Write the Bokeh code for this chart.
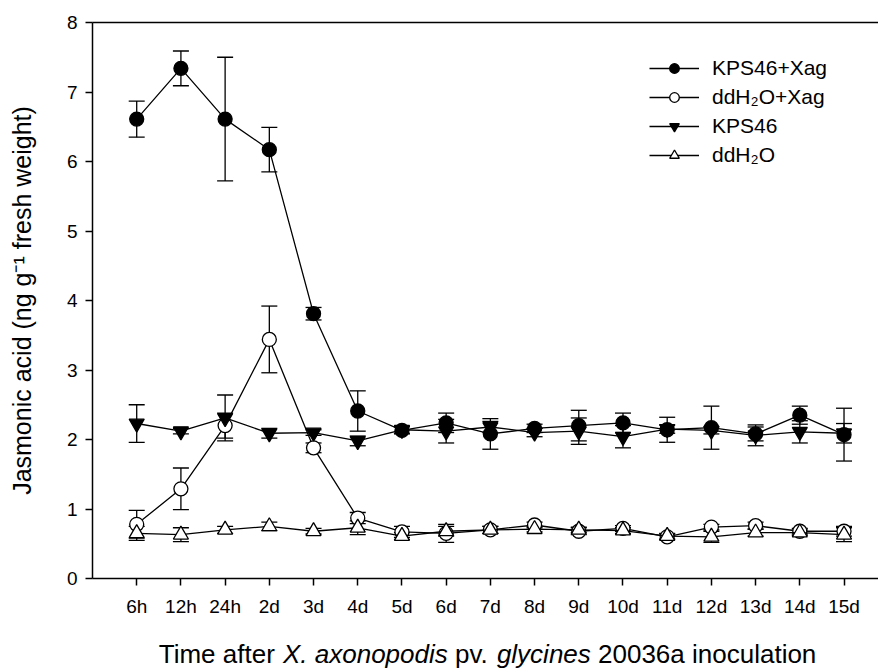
from bokeh.plotting import figure
from bokeh.layouts import column
from bokeh.models import (ColumnDataSource, Whisker, TeeHead, Legend, LegendItem,
                          LinearAxis, FixedTicker, Range1d)
from bokeh.core.properties import value
from bokeh.embed import file_html
from bokeh.resources import INLINE

# ---------------- data ----------------
time_labels = ["6h", "12h", "24h", "2d", "3d", "4d", "5d", "6d", "7d", "8d",
               "9d", "10d", "11d", "12d", "13d", "14d", "15d"]

kps_xag = [6.61, 7.34, 6.61, 6.17, 3.81, 2.41, 2.13, 2.24, 2.08, 2.16,
           2.20, 2.24, 2.14, 2.17, 2.08, 2.35, 2.07]
kps_xag_err = [0.26, 0.25, 0.89, 0.32, 0.09, 0.29, 0.05, 0.14, 0.22, 0.06,
               0.22, 0.14, 0.18, 0.31, 0.10, 0.13, 0.38]

dd_xag = [0.78, 1.29, 2.20, 3.44, 1.88, 0.87, 0.67, 0.65, 0.70, 0.77,
          0.68, 0.72, 0.60, 0.74, 0.76, 0.68, 0.68]
dd_xag_err = [0.20, 0.30, 0.18, 0.48, 0.07, 0.08, 0.08, 0.13, 0.05, 0.04,
              0.05, 0.04, 0.04, 0.04, 0.05, 0.04, 0.07]

kps = [2.23, 2.12, 2.31, 2.09, 2.10, 1.98, 2.14, 2.12, 2.18, 2.10,
       2.12, 2.04, 2.15, 2.13, 2.06, 2.11, 2.09]
kps_err = [0.27, 0.04, 0.33, 0.07, 0.04, 0.07, 0.05, 0.17, 0.08, 0.06,
           0.19, 0.16, 0.06, 0.05, 0.15, 0.16, 0.14]

dd = [0.65, 0.63, 0.70, 0.75, 0.68, 0.73, 0.61, 0.68, 0.70, 0.71,
      0.70, 0.69, 0.61, 0.60, 0.66, 0.66, 0.63]
dd_err = [0.10, 0.10, 0.05, 0.06, 0.04, 0.10, 0.05, 0.07, 0.05, 0.04,
          0.04, 0.04, 0.04, 0.08, 0.05, 0.04, 0.10]

series_names = ["KPS46+Xag", "ddH\u2082O+Xag", "KPS46", "ddH\u2082O"]
y_ticks = [0, 1, 2, 3, 4, 5, 6, 7, 8]
# x-axis title pieces, separated by single spaces
title_parts = [("Time after", "normal"), ("X. axonopodis", "italic"), ("pv.", "normal"),
               ("glycines", "italic"), ("20036a inoculation", "normal")]

x = list(range(1, len(time_labels) + 1))

FONT = "Liberation Sans"
LEFT = 92
FULL_W = 878

# ---------------- main plot ----------------
p = figure(width=FULL_W, height=628, output_backend="svg", toolbar_location=None,
           x_range=Range1d(0, 17.78), y_range=Range1d(0, 8),
           min_border_left=LEFT, min_border_right=0, min_border_top=22,
           min_border_bottom=50)
p.outline_line_color = None
p.grid.visible = False
p.background_fill_color = "white"
p.border_fill_color = "white"

for ax in (p.xaxis[0], p.yaxis[0]):
    ax.axis_line_width = 1.5
    ax.axis_line_color = "black"
    ax.major_tick_line_width = 1.5
    ax.major_tick_line_color = "black"
    ax.major_tick_in = 0
    ax.major_tick_out = 7
    ax.minor_tick_line_color = None
    ax.major_label_text_font = FONT
    ax.major_label_text_font_size = "19px"
    ax.major_label_text_color = "black"

p.xaxis.ticker = FixedTicker(ticks=x)
p.xaxis.major_label_overrides = {i: lab for i, lab in zip(x, time_labels)}
p.xaxis.major_label_standoff = 10

p.yaxis.ticker = FixedTicker(ticks=y_ticks)
p.yaxis.major_label_standoff = 8
p.yaxis.axis_label = "Jasmonic acid (ng g\u207b\u00b9 fresh weight)"
p.yaxis.axis_label_text_font = FONT
p.yaxis.axis_label_text_font_size = "25px"
p.yaxis.axis_label_text_font_style = "normal"
p.yaxis.axis_label_text_color = "black"
p.yaxis.axis_label_standoff = 28

top_axis = LinearAxis(ticker=FixedTicker(ticks=[]), major_tick_out=0, major_tick_in=0,
                      minor_tick_out=0, minor_tick_in=0, major_label_standoff=0,
                      major_label_text_font_size="0px", axis_line_width=1.5,
                      axis_line_color="black")
p.add_layout(top_axis, "above")

specs = [
    (kps_xag, kps_xag_err, "circle", "black", 14),
    (dd_xag, dd_xag_err, "circle", "white", 14),
    (kps, kps_err, "inverted_triangle", "black", 15),
    (dd, dd_err, "triangle", "white", 15),
]

items = []
for name, (vals, errs, marker, fill, msize) in zip(series_names, specs):
    src = ColumnDataSource(dict(
        x=x, y=vals,
        upper=[v + e for v, e in zip(vals, errs)],
        lower=[v - e for v, e in zip(vals, errs)],
    ))
    w = Whisker(base="x", upper="upper", lower="lower", source=src,
                line_color="black", line_width=1.3,
                upper_head=TeeHead(size=16, line_width=1.3, line_color="black"),
                lower_head=TeeHead(size=16, line_width=1.3, line_color="black"))
    p.add_layout(w)
    ln = p.line("x", "y", source=src, line_color="black", line_width=1.3)
    sc = p.scatter("x", "y", source=src, marker=marker, size=msize,
                   fill_color=fill, line_color="black", line_width=1.3)
    items.append(LegendItem(label=name, renderers=[ln, sc]))

legend = Legend(items=items, location=(557, 411), orientation="vertical",
                padding=0, margin=0, spacing=5, label_height=24, glyph_height=24,
                glyph_width=50, label_standoff=13, label_text_font=FONT,
                label_text_font_size="21px", label_text_color="black",
                border_line_color=None, background_fill_alpha=0)
p.add_layout(legend)

# ---------------- x-axis title strip (mixed italic) ----------------
W = {' ': 278, 'T': 611, 'i': 222, 'm': 833, 'e': 556, 'a': 556, 'f': 278, 't': 278,
     'r': 333, 'X': 667, '.': 278, 'x': 500, 'o': 556, 'n': 556, 'p': 556, 'd': 556,
     's': 500, 'v': 500, 'g': 556, 'l': 222, 'y': 500, 'c': 500, 'u': 556}
for ch in "0123456789":
    W[ch] = 556

TSIZE = 26
STRIP_H = 44
# strip frame spans the same columns as the main frame: data units = page pixels
t = figure(width=FULL_W, height=STRIP_H, output_backend="svg", toolbar_location=None,
           x_range=Range1d(LEFT, FULL_W), y_range=Range1d(0, STRIP_H),
           x_axis_type=None, y_axis_type=None,
           min_border_left=LEFT, min_border_right=0, min_border_top=0, min_border_bottom=0)
t.outline_line_color = None
t.background_fill_color = "white"
t.border_fill_color = "white"

space_w = W[' '] * TSIZE / 1000
widths = [sum(W.get(c, 556) for c in s) * TSIZE / 1000 for s, _ in title_parts]
total = sum(widths) + space_w * (len(widths) - 1)
xpos = 487 - total / 2
for (txt, style), wd in zip(title_parts, widths):
    t.text(x=[xpos], y=[19], text=[txt], text_font=value(FONT),
           text_font_size=value(f"{TSIZE}px"), text_font_style=value(style),
           text_color="black", text_baseline="middle", text_align="left")
    xpos += wd + space_w

layout = column(p, t, spacing=0)
open("out.html", "w").write(file_html(layout, INLINE))
